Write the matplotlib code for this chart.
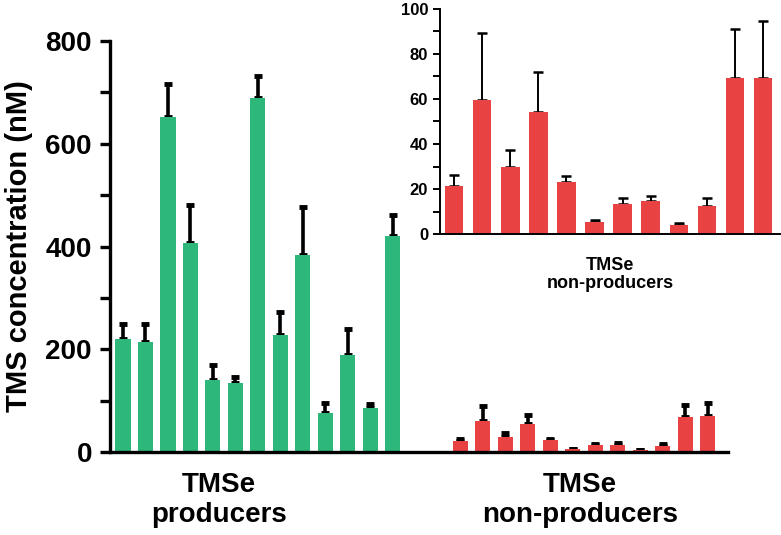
import matplotlib
matplotlib.use('Agg')
import matplotlib.pyplot as plt
import numpy as np
from matplotlib.ticker import MultipleLocator

plt.rcParams['font.family'] = ['Liberation Sans', 'DejaVu Sans']
plt.rcParams['font.weight'] = 'bold'

# TMSe producers (nM), mean and upper error
prod_mean = [221, 214, 653, 406, 141, 135, 690, 227, 383, 76, 188, 86, 420]
prod_err = [29, 36, 64, 75, 28, 11, 42, 46, 93, 20, 52, 8, 41]

# TMSe non-producers (nM), mean and upper error
nonprod_mean = [21.5, 59.6, 29.9, 54.2, 23.0, 5.3, 13.3, 14.5, 4.0, 12.6, 69.2, 69.3]
nonprod_err = [4.7, 29.6, 7.6, 17.8, 2.9, 0.9, 2.8, 2.2, 1.0, 3.3, 21.9, 25.4]

green = '#2EB77A'
red = '#E94243'

fig = plt.figure(figsize=(7.81, 5.35), dpi=100)
ax = fig.add_axes([0.1408, 0.155, 0.932 - 0.1408, 0.9234 - 0.155])

x_prod = np.arange(len(prod_mean))
x_non = np.arange(len(nonprod_mean)) + 15

ax.bar(x_prod, prod_mean, width=0.67, color=green, zorder=2)
ax.errorbar(x_prod, prod_mean, yerr=[np.zeros(len(prod_err)), prod_err], fmt='none',
            ecolor='black', elinewidth=2.6, capsize=3, capthick=3.5, zorder=1)
ax.bar(x_non, nonprod_mean, width=0.67, color=red, zorder=2)
ax.errorbar(x_non, nonprod_mean, yerr=[np.zeros(len(nonprod_err)), nonprod_err], fmt='none',
            ecolor='black', elinewidth=2.6, capsize=3, capthick=3.5, zorder=1)

ax.set_xlim(-0.58, 26.9)
ax.set_ylim(0, 800)
ax.spines['top'].set_visible(False)
ax.spines['right'].set_visible(False)
ax.spines['left'].set_linewidth(2.4)
ax.spines['bottom'].set_linewidth(2.4)
ax.set_xticks([])
ax.yaxis.set_major_locator(MultipleLocator(200))
ax.yaxis.set_minor_locator(MultipleLocator(100))
ax.tick_params(axis='y', which='both', direction='out', length=7, width=2.4, labelsize=20, pad=6)
for lab in ax.get_yticklabels():
    lab.set_fontweight('bold')
ax.set_ylabel('TMS concentration (nM)', fontsize=21, fontweight='bold', labelpad=9)

# group labels under the main axis
for xc, first, second in [(219, 'TMSe', 'producers'), (580, 'TMSe', 'non-producers')]:
    fig.text(xc / 781, (535 - 485) / 535, first, ha='center', va='center',
             fontsize=20, fontweight='bold')
    fig.text(xc / 781, (535 - 515) / 535, second, ha='center', va='center',
             fontsize=20, fontweight='bold')

# inset with non-producers zoomed
ins = fig.add_axes([0.5634, 0.5626, 0.9987 - 0.5634, 0.9832 - 0.5626])
xi = np.arange(len(nonprod_mean))
ins.bar(xi, nonprod_mean, width=0.66, color=red, zorder=2)
ins.errorbar(xi, nonprod_mean, yerr=[np.zeros(len(nonprod_err)), nonprod_err], fmt='none',
             ecolor='black', elinewidth=1.4, capsize=3.4, capthick=1.8, zorder=1)
ins.set_xlim(-0.5, 11.6)
ins.set_ylim(0, 100)
ins.spines['top'].set_visible(False)
ins.spines['right'].set_visible(False)
ins.spines['left'].set_linewidth(1.4)
ins.spines['bottom'].set_linewidth(1.4)
ins.set_xticks([])
ins.yaxis.set_major_locator(MultipleLocator(20))
ins.yaxis.set_minor_locator(MultipleLocator(10))
ins.tick_params(axis='y', which='both', direction='out', length=5, width=1.4, labelsize=12)
for lab in ins.get_yticklabels():
    lab.set_fontweight('bold')
ins.text(0.5, -0.1, 'TMSe\nnon-producers', transform=ins.transAxes, ha='center', va='top',
         fontsize=13, fontweight='bold', linespacing=1.1)

fig.savefig('out.png', dpi=100)
